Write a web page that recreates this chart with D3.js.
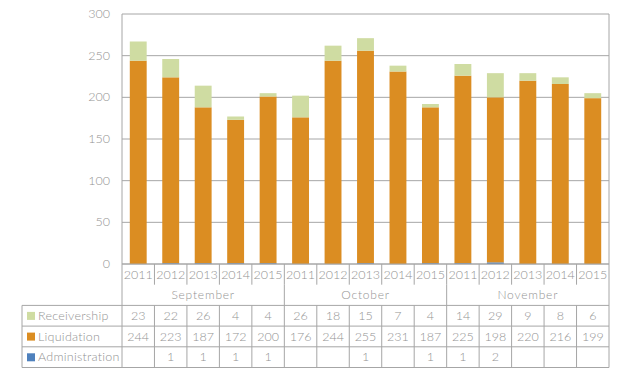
<!DOCTYPE html>
<html>
<head>
<meta charset="utf-8">
<script src="https://cdn.jsdelivr.net/npm/d3@7"></script>
<style>
  body { margin: 0; background: #fff; }
  text { font-family: Lato, "Open Sans", sans-serif; font-weight: 300; fill: #939393; }
</style>
</head>
<body>
<div id="chart"></div>
<script>
const months = ["September", "October", "November"]
const years = ["2011", "2012", "2013", "2014", "2015"]
const receivership = [23, 22, 26, 4, 4, 26, 18, 15, 7, 4, 14, 29, 9, 8, 6]
const liquidation = [244, 223, 187, 172, 200, 176, 244, 255, 231, 187, 225, 198, 220, 216, 199]
const administration = [null, 1, 1, 1, 1, null, null, 1, null, 1, 1, 2, null, null, null]
const yTicks = [0, 50, 100, 150, 200, 250, 300]

const series = [
    {name: "Receivership", values: receivership, color: "#cfdca2"},
    {name: "Liquidation", values: liquidation, color: "#db8d22"},
    {name: "Administration", values: administration, color: "#4f81bd"}
]

const width = 624, height = 374
const plot = {left: 122, right: 609, top: 14, bottom: 264}
const rowH = 20.7
const tableLeft = 22
const lineColor = "#a6a6a6"

const svg = d3.select("#chart").append("svg")
    .attr("width", width).attr("height", height)

const cats = []
months.forEach(m => years.forEach(y => cats.push(m + "|" + y)))

const x = d3.scaleBand().domain(cats).range([plot.left, plot.right]).paddingInner(0.48).paddingOuter(0.24)
const y = d3.scaleLinear().domain([0, 300]).range([plot.bottom, plot.top])

// gridlines
svg.append("g").selectAll("line").data(yTicks).enter().append("line")
    .attr("x1", plot.left).attr("x2", plot.right)
    .attr("y1", d => y(d)).attr("y2", d => y(d))
    .attr("stroke", lineColor).attr("stroke-width", 1)
svg.append("line").attr("x1", plot.right).attr("x2", plot.right)
    .attr("y1", plot.top).attr("y2", plot.bottom).attr("stroke", lineColor)

svg.append("g").selectAll("text").data(yTicks).enter().append("text")
    .attr("x", plot.left - 12).attr("y", d => y(d) + 4)
    .attr("text-anchor", "end").style("font-size", "12.5px")
    .text(d => d)

// stacked bars: administration at base, then liquidation, then receivership
const table = cats.map((c, i) => ({
    cat: c,
    Administration: administration[i] || 0,
    Liquidation: liquidation[i],
    Receivership: receivership[i]
}))
const stack = d3.stack().keys(["Administration", "Liquidation", "Receivership"])(table)
const colorOf = {}
series.forEach(s => colorOf[s.name] = s.color)

svg.append("g").selectAll("g").data(stack).enter().append("g")
    .attr("fill", d => colorOf[d.key])
    .selectAll("rect").data(d => d).enter().append("rect")
    .attr("x", d => x(d.data.cat))
    .attr("width", x.bandwidth())
    .attr("y", d => y(d[1]))
    .attr("height", d => y(d[0]) - y(d[1]))

// category table
const step = x.step()
const colLeft = i => plot.left + i * step
const g = svg.append("g")
const hline = (x1, x2, yy) => g.append("line").attr("x1", x1).attr("x2", x2).attr("y1", yy).attr("y2", yy).attr("stroke", lineColor)
const vline = (xx, y1, y2) => g.append("line").attr("x1", xx).attr("x2", xx).attr("y1", y1).attr("y2", y2).attr("stroke", lineColor)

const yearRowTop = plot.bottom
const monthRowTop = yearRowTop + rowH
const dataTop = monthRowTop + rowH
const tableBottom = dataTop + 3 * rowH

hline(plot.left, plot.right, plot.bottom)
vline(plot.left, plot.top, tableBottom)
vline(plot.right, plot.bottom, tableBottom)
vline(tableLeft, dataTop, tableBottom)
for (let r = 0; r <= 3; r++) hline(tableLeft, plot.right, dataTop + r * rowH)

cats.forEach((c, i) => {
    if (i > 0) {
        vline(colLeft(i), yearRowTop, yearRowTop + rowH)
        vline(colLeft(i), dataTop, tableBottom)
    }
    g.append("text").attr("x", colLeft(i) + step / 2).attr("y", yearRowTop + 14.5)
        .attr("text-anchor", "middle").style("font-size", "12.5px")
        .text(c.split("|")[1])
})
months.forEach((m, i) => {
    if (i > 0) vline(colLeft(i * 5), monthRowTop, dataTop)
    g.append("text").attr("x", colLeft(i * 5) + step * 2.5).attr("y", monthRowTop + 14.5)
        .attr("text-anchor", "middle").style("font-size", "12px").style("letter-spacing", "0.8px")
        .text(m)
})

series.forEach((s, r) => {
    const top = dataTop + r * rowH
    g.append("rect").attr("x", tableLeft + 5).attr("y", top + 6.5)
        .attr("width", 8).attr("height", 8).attr("fill", s.color)
    g.append("text").attr("x", tableLeft + 16).attr("y", top + 14.5)
        .style("font-size", "12.5px").style("letter-spacing", "0.25px")
        .text(s.name)
    s.values.forEach((v, i) => {
        if (v == null) return
        g.append("text").attr("x", colLeft(i) + step / 2).attr("y", top + 14.5)
            .attr("text-anchor", "middle").style("font-size", "12.5px")
            .text(v)
    })
})
</script>
</body>
</html>
